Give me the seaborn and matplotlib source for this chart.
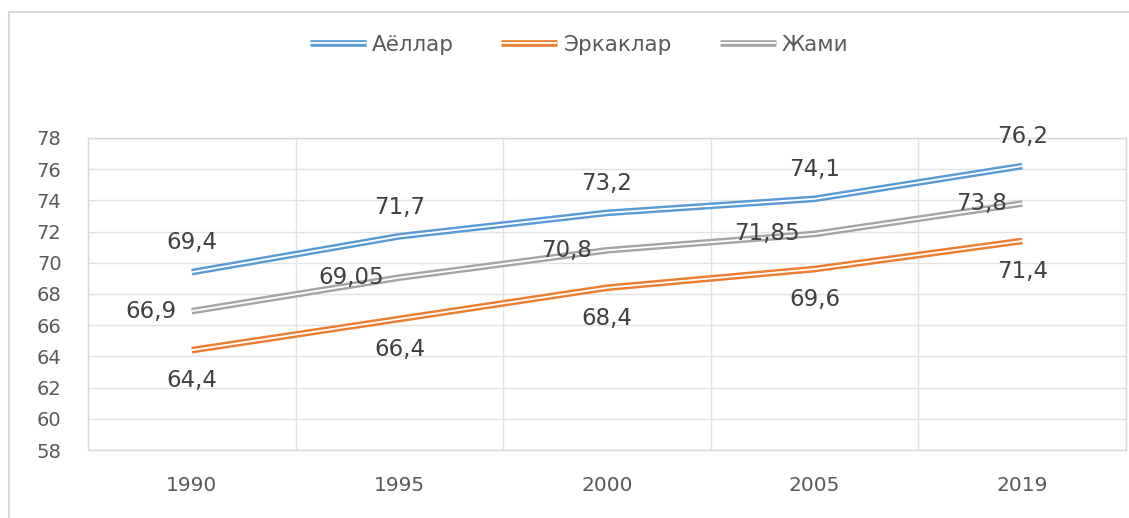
import matplotlib
matplotlib.use("Agg")
import matplotlib.pyplot as plt
import matplotlib.patheffects as pe
from matplotlib.lines import Line2D
import seaborn as sns
import pandas as pd

years = ["1990", "1995", "2000", "2005", "2019"]
women = [69.4, 71.7, 73.2, 74.1, 76.2]
men = [64.4, 66.4, 68.4, 69.6, 71.4]
total = [66.9, 69.05, 70.8, 71.85, 73.8]
labels_women = ["69,4", "71,7", "73,2", "74,1", "76,2"]
labels_men = ["64,4", "66,4", "68,4", "69,6", "71,4"]
labels_total = ["66,9", "69,05", "70,8", "71,85", "73,8"]
series_names = ["Аёллар", "Эркаклар", "Жами"]
colors = ["#5b9bd5", "#ed7d31", "#a5a5a5"]

sns.set_theme(style="white")
plt.rcParams["font.family"] = ["DejaVu Sans"]

rows = []
for name, vals in zip(series_names, [women, men, total]):
    for y, v in zip(years, vals):
        rows.append({"year": y, "value": v, "series": name})
df = pd.DataFrame(rows)

fig = plt.figure(figsize=(11.29, 5.18), dpi=100)
ax = fig.add_axes([88 / 1129, 1 - 450 / 518, (1126 - 88) / 1129, (450 - 138) / 518])

sns.lineplot(data=df, x="year", y="value", hue="series", hue_order=series_names,
             palette=colors, linewidth=4.6, legend=False, sort=False, ax=ax)

handles = []
for line, c, name in zip(ax.lines, colors, series_names):
    effects = [pe.Stroke(linewidth=4.8, foreground=c, capstyle="butt"),
               pe.Stroke(linewidth=1.3, foreground="white", capstyle="butt")]
    line.set_path_effects(effects)
    h = Line2D([0], [0], color=c, linewidth=4.8)
    h.set_path_effects(effects)
    handles.append(h)

ax.set_xlim(-0.5, 4.5)
ax.set_ylim(58, 78)
ax.set_yticks(range(58, 79, 2))
ax.set_xticks(range(5))
ax.set_xticklabels(years)
ax.set_xticks([i + 0.5 for i in range(-1, 5)], minor=True)
ax.grid(True, axis="y", color="#e3e3e3", linewidth=1)
ax.grid(True, axis="x", which="minor", color="#e3e3e3", linewidth=1)
ax.set_axisbelow(True)
for s in ax.spines.values():
    s.set_color("#d9d9d9")
    s.set_linewidth(1)
ax.tick_params(axis="y", length=0, pad=19, labelsize=14, labelcolor="#595959")
ax.tick_params(axis="x", which="both", length=0, pad=19, labelsize=14.5, labelcolor="#595959")
ax.set_xlabel("")
ax.set_ylabel("")

lab_kw = dict(fontsize=16.5, color="#404040")
for i, (v, t) in enumerate(zip(women, labels_women)):
    ax.annotate(t, (i, v), xytext=(0, 21), textcoords="offset points", ha="center", va="center", **lab_kw)
for i, (v, t) in enumerate(zip(men, labels_men)):
    ax.annotate(t, (i, v), xytext=(0, -22), textcoords="offset points", ha="center", va="center", **lab_kw)
for i, (v, t) in enumerate(zip(total, labels_total)):
    ax.annotate(t, (i, v), xytext=(-11, 0), textcoords="offset points", ha="right", va="center", **lab_kw)

fig.legend(handles, series_names, loc="center", bbox_to_anchor=(0.513, 1 - 45 / 518), ncol=3,
           frameon=False, fontsize=15.5, labelcolor="#595959", handlelength=2.6,
           columnspacing=2.2, handletextpad=0.3)

# outer chart frame (left and top edges visible)
fig.add_artist(Line2D([8.5 / 1129, 8.5 / 1129], [0, 1 - 12 / 518], color="#d9d9d9", linewidth=1.5,
                      transform=fig.transFigure))
fig.add_artist(Line2D([8.5 / 1129, 1], [1 - 12 / 518, 1 - 12 / 518], color="#d9d9d9", linewidth=1.5,
                      transform=fig.transFigure))

fig.savefig("out.png", dpi=100)
